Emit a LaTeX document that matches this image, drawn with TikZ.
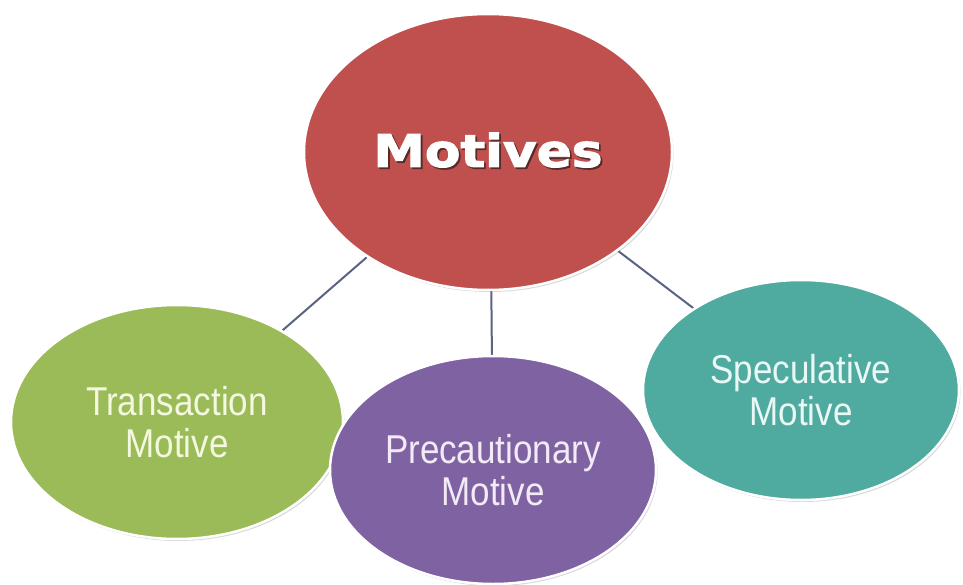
\documentclass[tikz,border=0pt]{standalone}
\usepackage{fontspec}
\setmainfont{Liberation Sans}
\newfontfamily\heavyfont[FakeBold=2.2]{DejaVu Sans Bold}
\usetikzlibrary{shapes.geometric,shadows,backgrounds}

\definecolor{redfill}{HTML}{C0504D}
\definecolor{greenfill}{HTML}{9BBB59}
\definecolor{purplefill}{HTML}{7F62A2}
\definecolor{tealfill}{HTML}{4FAAA0}
\definecolor{linkcol}{HTML}{5B6384}
\definecolor{greentext}{HTML}{F4F8DE}
\definecolor{purpletext}{HTML}{F2EAF6}
\definecolor{tealtext}{HTML}{EAF8F5}
\definecolor{shadetext}{HTML}{5A2A28}

\newcommand{\tallline}[1]{\scalebox{1}[1.15]{#1}}
% heavy title with a dark offset copy beneath it
\newcommand{\shadedtitle}[1]{%
  \rlap{\kern1.8pt\raisebox{-1.8pt}{\textcolor{shadetext}{\scalebox{1.15}[1]{#1}}}}%
  \scalebox{1.15}[1]{#1}}

\tikzset{
  bubble/.style={ellipse, inner sep=0pt, draw=white, line width=2.5pt,
    drop shadow={shadow xshift=1.5pt, shadow yshift=-2pt, opacity=0.25, fill=black!60}},
  subtext/.style={align=center, font=\fontsize{35}{42}\selectfont},
  link/.style={draw=linkcol, line width=2pt}
}

\begin{document}
\begin{tikzpicture}[x=1pt, y=-1pt]
  \useasboundingbox (0,0) rectangle (963,585);

  % central bubble
  \node[bubble, fill=redfill, minimum width=368pt, minimum height=276pt] (motives) at (488,152) {};
  \node[text=white, font=\heavyfont\fontsize{45}{50}\selectfont] (motivestext) at (488,151)
        {\shadedtitle{Motives}};

  % the three motives
  \node[bubble, fill=greenfill, minimum width=332pt, minimum height=234pt,
        subtext, text=greentext] (transaction) at (177,422)
        {\tallline{Transaction}\\\tallline{Motive}};
  \node[bubble, fill=tealfill, minimum width=316pt, minimum height=220pt,
        subtext, text=tealtext] (speculative) at (801,390)
        {\tallline{Speculative}\\\tallline{Motive}};
  \node[bubble, fill=purplefill, minimum width=326pt, minimum height=228pt,
        subtext, text=purpletext] (precautionary) at (493,470)
        {\tallline{Precautionary}\\\tallline{Motive}};

  % connectors
  \begin{pgfonlayer}{background}
    \fill[white] (0,0) rectangle (963,585);
    \draw[link] (motives) -- (transaction);
    \draw[link] (motives.center) ++(2,0) coordinate (midtop) (midtop) -- (precautionary);
    \draw[link] (motives) -- (speculative);
  \end{pgfonlayer}
\end{tikzpicture}
\end{document}
